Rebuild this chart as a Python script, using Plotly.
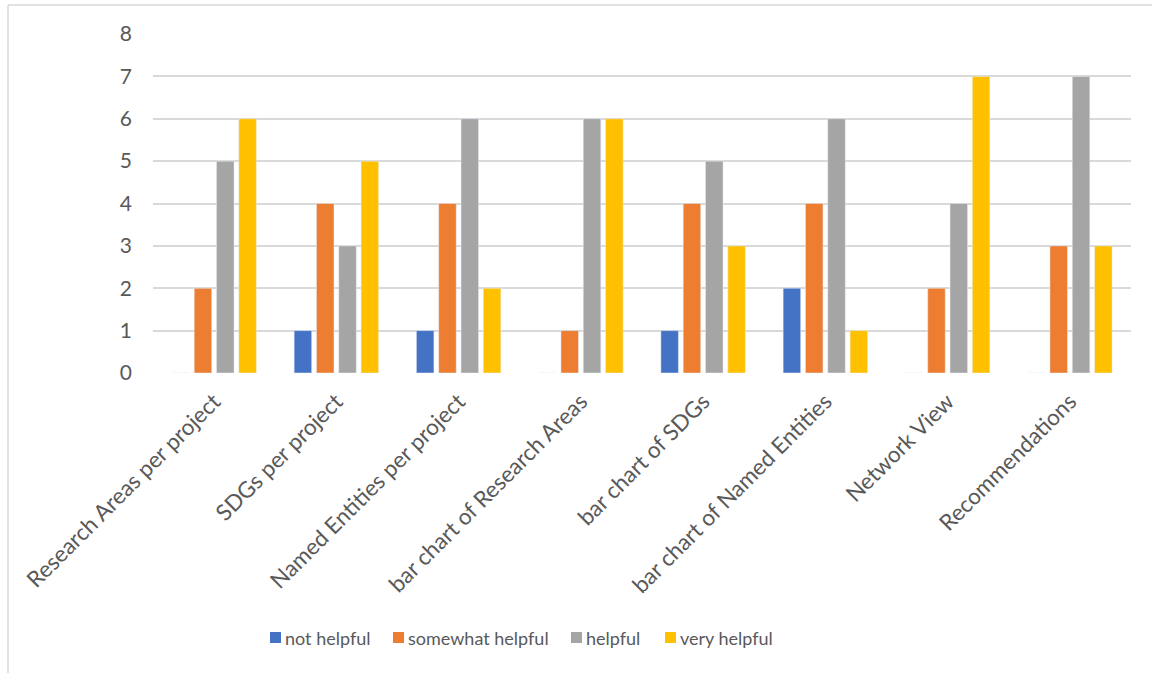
import plotly.graph_objects as go

# Survey answers: how helpful each feature was rated
features = [
    "Research Areas per project",
    "SDGs per project",
    "Named Entities per project",
    "bar chart of Research Areas",
    "bar chart of SDGs",
    "bar chart of Named Entities",
    "Network View",
    "Recommendations",
]
ratings = ["not helpful", "somewhat helpful", "helpful", "very helpful"]

not_helpful = [0, 1, 1, 0, 1, 2, 0, 0]
somewhat_helpful = [2, 4, 4, 1, 4, 4, 2, 3]
helpful = [5, 3, 6, 6, 5, 6, 4, 7]
very_helpful = [6, 5, 2, 6, 3, 1, 7, 3]

y_ticks = [0, 1, 2, 3, 4, 5, 6, 7, 8]

series = [not_helpful, somewhat_helpful, helpful, very_helpful]
colors = ["#4472C4", "#ED7D31", "#A5A5A5", "#FFC000"]

TEXT = "#595959"
GRID = "#D9D9D9"
FONT = "Lato"

W, H = 1152, 674
ML, MR, MT, MB = 153, 21, 34, 301
PW, PH = W - ML - MR, H - MT - MB


def px(x):
    return (x - ML) / PW


def py(y):
    return (H - MB - y) / PH


fig = go.Figure()
for name, vals, col in zip(ratings, series, colors):
    fig.add_trace(go.Bar(x=features, y=vals, name=name, marker_color=col,
                         showlegend=False))

# legend row along the bottom
legend_sq = [270, 393, 571, 665]
legend_y = 637.5
shapes = []
annotations = []
for name, col, x0 in zip(ratings, colors, legend_sq):
    shapes.append(dict(type="rect", xref="paper", yref="paper",
                       x0=px(x0), x1=px(x0 + 11), y0=py(legend_y - 5.5), y1=py(legend_y + 5.5),
                       fillcolor=col, line=dict(width=0)))
    annotations.append(dict(text=name, xref="paper", yref="paper",
                            x=px(x0 + 13), y=py(legend_y), xanchor="left", yanchor="middle",
                            showarrow=False, font=dict(family=FONT, size=18, color=TEXT)))

# chart frame (left and top edges)
shapes.append(dict(type="line", xref="paper", yref="paper",
                   x0=px(8), x1=px(8), y0=py(673), y1=py(5),
                   line=dict(color=GRID, width=1.5)))
shapes.append(dict(type="line", xref="paper", yref="paper",
                   x0=px(8), x1=px(1152), y0=py(5), y1=py(5),
                   line=dict(color=GRID, width=1.5)))

fig.update_layout(
    width=W, height=H,
    margin=dict(l=ML, r=MR, t=MT, b=MB, autoexpand=False),
    paper_bgcolor="white", plot_bgcolor="white",
    barmode="group", bargap=0.27, bargroupgap=0.215,
    font=dict(family=FONT, color=TEXT),
    xaxis=dict(type="category", tickangle=-45, showgrid=False, ticks="",
               tickfont=dict(family=FONT, size=22.5, color=TEXT),
               ticklabelstandoff=10, showline=False),
    yaxis=dict(range=[0, 8], tickvals=y_ticks, ticktext=[str(v) for v in y_ticks],
               showgrid=True, gridcolor=GRID, gridwidth=1.5, zeroline=False,
               tickfont=dict(family=FONT, size=21, color=TEXT),
               ticklabelstandoff=20, ticks=""),
    shapes=shapes,
    annotations=annotations,
)

fig.write_html("out.html")
